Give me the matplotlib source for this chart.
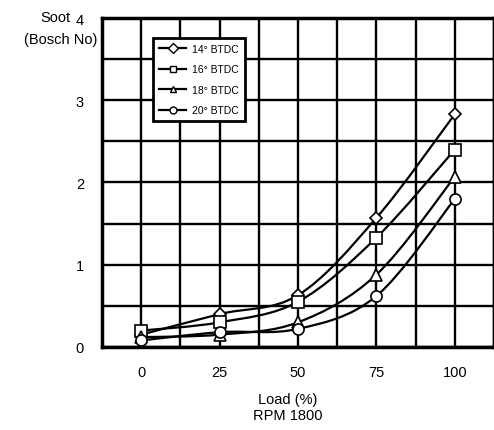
import numpy as np
import matplotlib.pyplot as plt
from matplotlib.path import Path
from matplotlib.patches import PathPatch
from matplotlib.lines import Line2D

plt.rcParams['font.family'] = ['Liberation Sans', 'DejaVu Sans']

# data
load = [0, 25, 50, 75, 100]
soot_14 = [0.15, 0.40, 0.63, 1.57, 2.83]
soot_16 = [0.20, 0.30, 0.55, 1.33, 2.40]
soot_18 = [0.12, 0.15, 0.30, 0.88, 2.07]
soot_20 = [0.08, 0.18, 0.22, 0.62, 1.80]
labels = ['14° BTDC', '16° BTDC', '18° BTDC', '20° BTDC']
markers = ['D', 's', '^', 'o']
ytick_labels = ['0', '1', '2', '3', '4']


def smooth_path(x, y):
    # Catmull-Rom spline through the points, as cubic bezier segments
    pts = np.column_stack([x, y]).astype(float)
    verts = [pts[0]]
    codes = [Path.MOVETO]
    n = len(pts)
    for i in range(n - 1):
        p0 = pts[i - 1] if i > 0 else pts[i]
        p1 = pts[i]
        p2 = pts[i + 1]
        p3 = pts[i + 2] if i + 2 < n else pts[i + 1]
        c1 = p1 + (p2 - p0) / 6.0
        c2 = p2 - (p3 - p1) / 6.0
        verts += [c1, c2, p2]
        codes += [Path.CURVE4] * 3
    return Path(verts, codes)


fig = plt.figure(figsize=(4.94, 4.31), dpi=100)
ax = fig.add_axes([0.2065, 0.1926, 0.7935, 0.7633])

ax.set_xlim(-12.5, 112.5)
ax.set_ylim(0, 4)
ax.set_xticks(np.arange(-12.5, 113, 12.5), minor=True)
ax.set_yticks(np.arange(0, 4.01, 0.5), minor=True)
ax.set_xticks(load)
ax.set_yticks(range(5))
ax.set_yticklabels(ytick_labels)
ax.grid(which='both', color='black', linewidth=1.7)
ax.tick_params(which='both', length=0)
ax.tick_params(axis='x', pad=13, labelsize=10.5)
ax.tick_params(axis='y', pad=13, labelsize=10.5)
for s in ax.spines.values():
    s.set_linewidth(2.5)

for ys, m in zip([soot_14, soot_16, soot_18, soot_20], markers):
    ax.add_patch(PathPatch(smooth_path(load, ys), fill=False, edgecolor='black',
                           linewidth=1.6, zorder=3, clip_on=False))
    ms = 6.5 if m == 'D' else 8
    ax.plot(load, ys, linestyle='none', marker=m, markersize=ms,
            markerfacecolor='white', markeredgecolor='black',
            markeredgewidth=1.2, zorder=4, clip_on=False)

handles = [Line2D([], [], color='black', linewidth=1.6, marker=m, markersize=5,
                  markerfacecolor='white', markeredgecolor='black')
           for m in markers]
leg = ax.legend(handles, labels, loc='upper left', bbox_to_anchor=(0.13, 0.94),
                fontsize=7.5, frameon=True, fancybox=False, handlelength=2.6,
                borderpad=0.6, labelspacing=1.0, handletextpad=0.5,
                borderaxespad=0)
leg.get_frame().set_edgecolor('black')
leg.get_frame().set_linewidth(2)
leg.get_frame().set_alpha(1)
leg.set_zorder(5)

fig.text(0.142, 0.958, 'Soot', fontsize=10.5, ha='right', va='center')
fig.text(0.197, 0.908, '(Bosch No)', fontsize=10.5, ha='right', va='center')
fig.text(0.582, 0.072, 'Load (%)', fontsize=10.5, ha='center', va='center')
fig.text(0.582, 0.035, 'RPM 1800', fontsize=10.5, ha='center', va='center')

fig.savefig('out.png', dpi=100)
